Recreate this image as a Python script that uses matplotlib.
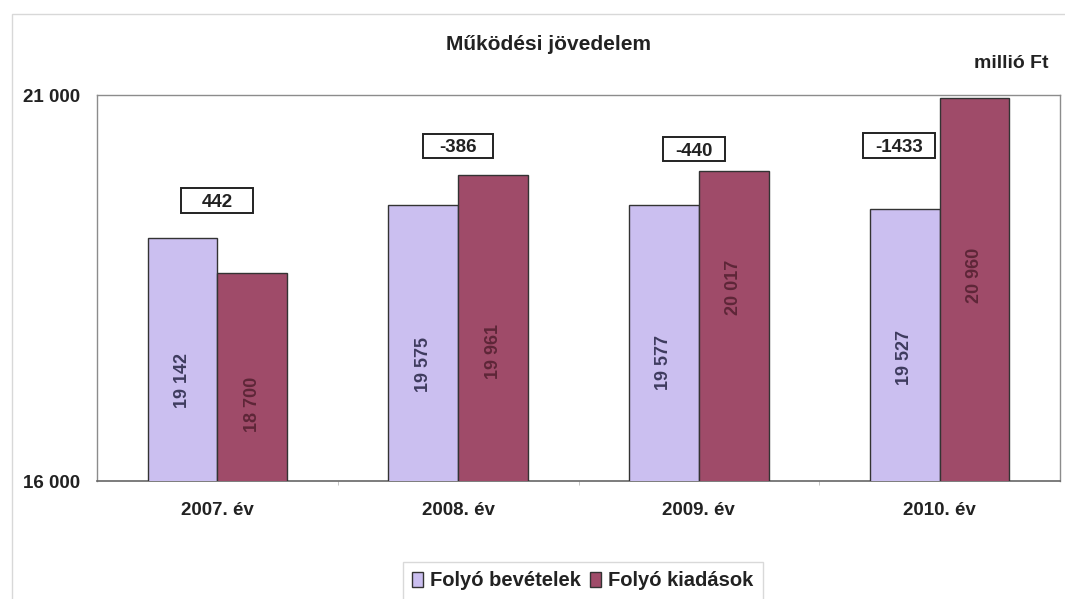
import matplotlib
matplotlib.use("Agg")
import matplotlib.pyplot as plt
from matplotlib.patches import Patch, Rectangle
import numpy as np

plt.rcParams['font.family'] = ['Liberation Sans', 'DejaVu Sans']

# Data (millió Ft)
years = ["2007. év", "2008. év", "2009. év", "2010. év"]
bevetelek = [19142, 19575, 19577, 19527]
kiadasok = [18700, 19961, 20017, 20960]
y_ticks = [16000, 21000]
tick_labels = ["16 000", "21 000"]

# Layout of annotations
bev_label_y = [17308, 17503, 17541, 17606]
kia_label_y = [16997, 17671, 18513, 18668]
diff_box_x = [0.0, 1.0, 1.98, 2.83]
diff_box_y = [19630, 20340, 20300, 20350]
diff_box_w = [0.30, 0.29, 0.26, 0.30]
diff_box_h = 320

c_bev = "#cbbff0"
c_kia = "#9f4b69"


def fmt(v):
    return f"{v:,}".replace(",", " ")


fig = plt.figure(figsize=(10.65, 5.99), dpi=100)
fig.patch.set_facecolor("white")

# light frame around the chart area
fig.add_artist(Rectangle((12 / 1065, -0.05), 1.2, 1 - 14 / 599 + 0.05,
                         transform=fig.transFigure, fill=False,
                         edgecolor="#d8d8d8", linewidth=1.0))

ax = fig.add_axes([97 / 1065, 1 - 481 / 599, (1060 - 97) / 1065, (481 - 95) / 599])
x = np.arange(len(years))
w = 0.29
ax.bar(x - w / 2, bevetelek, w, bottom=0, color=c_bev, edgecolor="#333333",
       linewidth=1.0, zorder=3)
ax.bar(x + w / 2, kiadasok, w, bottom=0, color=c_kia, edgecolor="#333333",
       linewidth=1.0, zorder=3)
ax.set_ylim(16000, 21000)
ax.set_xlim(-0.5, 3.5)

for i in range(len(years)):
    ax.text(x[i] - w / 2, bev_label_y[i], fmt(bevetelek[i]), rotation=90,
            ha="center", va="center", fontsize=13, fontweight="bold",
            color="#3e3b5e", zorder=4)
    ax.text(x[i] + w / 2, kia_label_y[i], fmt(kiadasok[i]), rotation=90,
            ha="center", va="center", fontsize=13, fontweight="bold",
            color="#5e2638", zorder=4)
    diff = bevetelek[i] - kiadasok[i]
    ax.add_patch(Rectangle((diff_box_x[i] - diff_box_w[i] / 2, diff_box_y[i] - diff_box_h / 2),
                           diff_box_w[i], diff_box_h, facecolor="white",
                           edgecolor="#222222", linewidth=1.4, zorder=5))
    ax.text(diff_box_x[i], diff_box_y[i], f"{diff}", ha="center", va="center_baseline",
            fontsize=13.5, fontweight="bold", color="#222222", zorder=6)

ax.set_yticks(y_ticks)
ax.set_yticklabels(tick_labels, fontsize=13.5, fontweight="bold", color="#222222")
ax.set_xticks(x)
ax.set_xticklabels(years, fontsize=13.5, fontweight="bold", color="#222222")
ax.tick_params(axis="x", length=0, pad=15)
ax.tick_params(axis="y", length=0, pad=12)
# small ticks between categories
ax.set_xticks(x[:-1] + 0.5, minor=True)
ax.tick_params(axis="x", which="minor", length=3, color="#bbbbbb", direction="out")

for s in ["top", "right", "left"]:
    ax.spines[s].set_color("#8c8c8c")
    ax.spines[s].set_linewidth(1.0)
ax.spines["bottom"].set_color("#666666")
ax.spines["bottom"].set_linewidth(1.2)

fig.text(548 / 1065, 1 - 45 / 599, "Működési jövedelem", ha="center", va="center",
         fontsize=15, fontweight="bold", color="#222222")
fig.text(1048 / 1065, 1 - 63 / 599, "millió Ft", ha="right", va="center",
         fontsize=14, fontweight="bold", color="#222222")

handles = [Patch(facecolor=c_bev, edgecolor="#333333", label="Folyó bevételek"),
           Patch(facecolor=c_kia, edgecolor="#333333", label="Folyó kiadások")]
leg = fig.legend(handles=handles, loc="center", bbox_to_anchor=(583 / 1065, 1 - 581 / 599),
                 ncol=2, frameon=True, fancybox=False, edgecolor="#d0d0d0",
                 prop={"size": 14.5, "weight": "bold"}, handlelength=0.55,
                 handleheight=0.75, handletextpad=0.35, columnspacing=0.45,
                 borderpad=0.45)
leg.get_frame().set_linewidth(1.0)
for t in leg.get_texts():
    t.set_color("#222222")

fig.savefig("out.png", dpi=100)
